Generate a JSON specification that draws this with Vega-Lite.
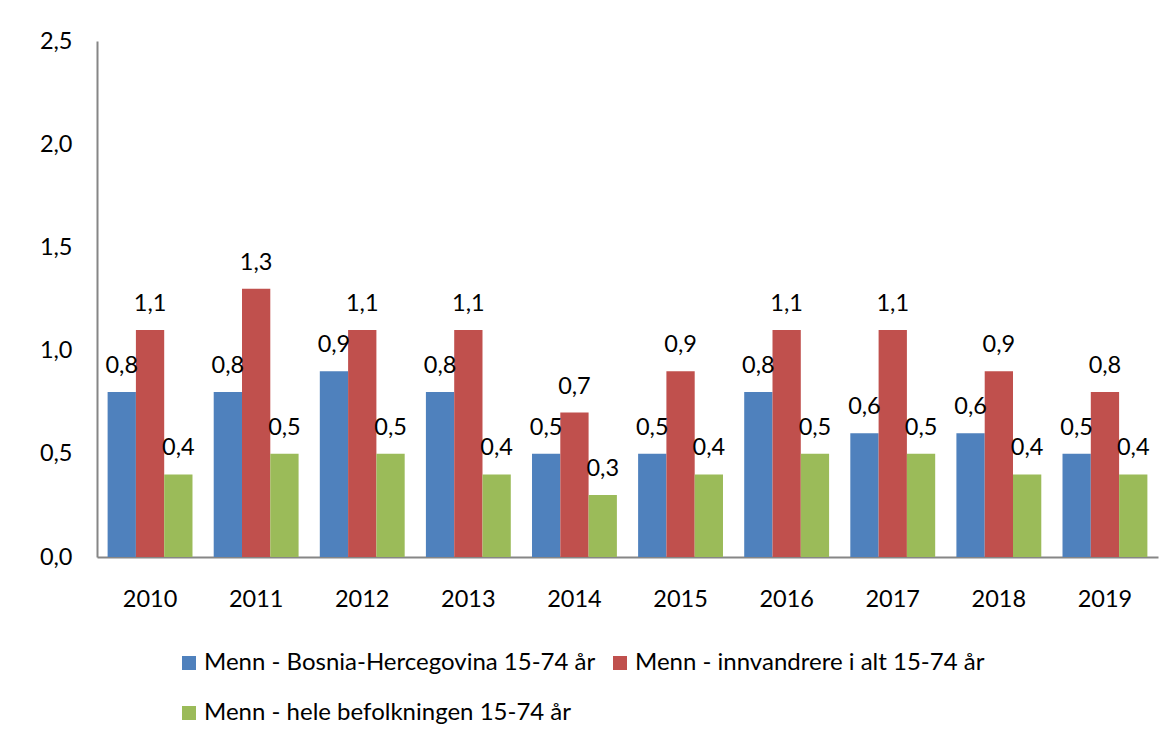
{
  "$schema": "https://vega.github.io/schema/vega-lite/v6.json",
  "width": 1061,
  "height": 516,
  "autosize": {"type": "none"},
  "padding": {"left": 97, "top": 41, "right": 17, "bottom": 185},
  "background": "white",
  "config": {
    "locale": {"number": {"decimal": ",", "thousands": " ", "grouping": [3], "currency": ["", " kr"]}},
    "view": {"stroke": null},
    "font": "Lato",
    "axis": {"labelFont": "Lato", "labelFontSize": 23.5, "labelColor": "black", "domainColor": "#868686", "domainWidth": 2, "grid": false, "ticks": false, "title": null},
    "legend": {"labelFont": "Lato", "labelFontSize": 24, "labelColor": "black", "labelLimit": 0}
  },
  "data": {
    "values": [
      {"year": "2010", "series": "Menn - Bosnia-Hercegovina 15-74 år", "value": 0.8},
      {"year": "2010", "series": "Menn - innvandrere i alt 15-74 år", "value": 1.1},
      {"year": "2010", "series": "Menn - hele befolkningen 15-74 år", "value": 0.4},
      {"year": "2011", "series": "Menn - Bosnia-Hercegovina 15-74 år", "value": 0.8},
      {"year": "2011", "series": "Menn - innvandrere i alt 15-74 år", "value": 1.3},
      {"year": "2011", "series": "Menn - hele befolkningen 15-74 år", "value": 0.5},
      {"year": "2012", "series": "Menn - Bosnia-Hercegovina 15-74 år", "value": 0.9},
      {"year": "2012", "series": "Menn - innvandrere i alt 15-74 år", "value": 1.1},
      {"year": "2012", "series": "Menn - hele befolkningen 15-74 år", "value": 0.5},
      {"year": "2013", "series": "Menn - Bosnia-Hercegovina 15-74 år", "value": 0.8},
      {"year": "2013", "series": "Menn - innvandrere i alt 15-74 år", "value": 1.1},
      {"year": "2013", "series": "Menn - hele befolkningen 15-74 år", "value": 0.4},
      {"year": "2014", "series": "Menn - Bosnia-Hercegovina 15-74 år", "value": 0.5},
      {"year": "2014", "series": "Menn - innvandrere i alt 15-74 år", "value": 0.7},
      {"year": "2014", "series": "Menn - hele befolkningen 15-74 år", "value": 0.3},
      {"year": "2015", "series": "Menn - Bosnia-Hercegovina 15-74 år", "value": 0.5},
      {"year": "2015", "series": "Menn - innvandrere i alt 15-74 år", "value": 0.9},
      {"year": "2015", "series": "Menn - hele befolkningen 15-74 år", "value": 0.4},
      {"year": "2016", "series": "Menn - Bosnia-Hercegovina 15-74 år", "value": 0.8},
      {"year": "2016", "series": "Menn - innvandrere i alt 15-74 år", "value": 1.1},
      {"year": "2016", "series": "Menn - hele befolkningen 15-74 år", "value": 0.5},
      {"year": "2017", "series": "Menn - Bosnia-Hercegovina 15-74 år", "value": 0.6},
      {"year": "2017", "series": "Menn - innvandrere i alt 15-74 år", "value": 1.1},
      {"year": "2017", "series": "Menn - hele befolkningen 15-74 år", "value": 0.5},
      {"year": "2018", "series": "Menn - Bosnia-Hercegovina 15-74 år", "value": 0.6},
      {"year": "2018", "series": "Menn - innvandrere i alt 15-74 år", "value": 0.9},
      {"year": "2018", "series": "Menn - hele befolkningen 15-74 år", "value": 0.4},
      {"year": "2019", "series": "Menn - Bosnia-Hercegovina 15-74 år", "value": 0.5},
      {"year": "2019", "series": "Menn - innvandrere i alt 15-74 år", "value": 0.8},
      {"year": "2019", "series": "Menn - hele befolkningen 15-74 år", "value": 0.4}
    ]
  },
  "encoding": {
    "x": {"field": "year", "type": "nominal", "scale": {"paddingInner": 0.2, "paddingOuter": 0.1},
          "axis": {"labelAngle": 0, "labelPadding": 30}},
    "xOffset": {"field": "series", "type": "nominal", "sort": ["Menn - Bosnia-Hercegovina 15-74 år", "Menn - innvandrere i alt 15-74 år", "Menn - hele befolkningen 15-74 år"], "scale": {"paddingInner": 0, "paddingOuter": 0}},
    "y": {"field": "value", "type": "quantitative", "scale": {"domain": [0, 2.5], "nice": false},
          "axis": {"values": [0, 0.5, 1, 1.5, 2, 2.5], "format": ".1f", "labelPadding": 25}}
  },
  "layer": [
    {
      "mark": {"type": "bar"},
      "encoding": {
        "color": {"field": "series", "type": "nominal",
          "sort": ["Menn - Bosnia-Hercegovina 15-74 år", "Menn - innvandrere i alt 15-74 år", "Menn - hele befolkningen 15-74 år"],
          "scale": {"domain": ["Menn - Bosnia-Hercegovina 15-74 år", "Menn - innvandrere i alt 15-74 år", "Menn - hele befolkningen 15-74 år"], "range": ["#4F81BD", "#C0504D", "#9BBB59"]},
          "legend": {"orient": "none", "legendX": 80, "legendY": 610, "direction": "horizontal", "columns": 2, "title": null, "symbolType": "square", "symbolSize": 196, "symbolStrokeWidth": 0, "symbolOpacity": 1, "rowPadding": 26, "columnPadding": 12, "labelOffset": 3}}
      }
    },
    {
      "mark": {"type": "text", "baseline": "alphabetic", "dy": -19, "fontSize": 23.5, "font": "Lato", "color": "black"},
      "encoding": {
        "text": {"field": "value", "type": "quantitative", "format": ".1f"}
      }
    }
  ]
}
